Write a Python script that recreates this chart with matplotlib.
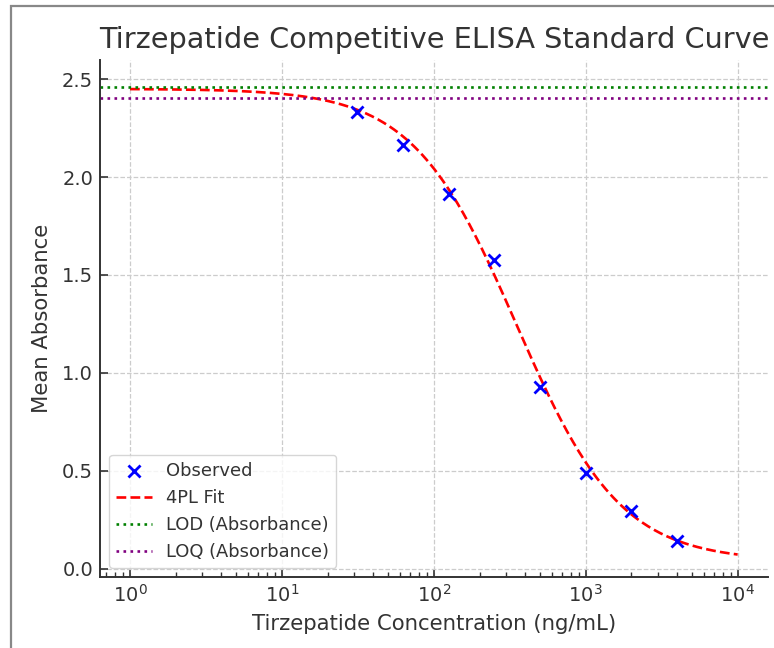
import numpy as np
import matplotlib.pyplot as plt
from matplotlib.patches import Rectangle

# Standard concentrations (ng/mL) and mean absorbance
conc = [31.25, 62.5, 125, 250, 500, 1000, 2000, 4000]
absorbance = [2.333, 2.165, 1.915, 1.577, 0.930, 0.491, 0.296, 0.143]

# 4PL fit parameters (top, bottom, IC50, hill slope)
fit_top = 2.45
fit_bottom = 0.04
fit_ic50 = 351.0
fit_hill = 1.27

lod_abs = 2.458
loq_abs = 2.405

text_color = '#333333'

def four_pl(x, a, d, c, b):
    return d + (a - d) / (1 + (x / c) ** b)

x_fit = np.logspace(0, 4, 300)
y_fit = four_pl(x_fit, fit_top, fit_bottom, fit_ic50, fit_hill)

fig = plt.figure(figsize=(7.74, 6.48), dpi=100)
ax = fig.add_axes([100 / 774, 1 - 577 / 648, 668 / 774, 517 / 648])

ax.scatter(conc, absorbance, marker='x', color='blue', s=75, linewidths=2, label='Observed', zorder=3)
ax.plot(x_fit, y_fit, '--', color='red', linewidth=1.9, label='4PL Fit')
ax.axhline(lod_abs, color='green', linestyle=':', linewidth=1.9, label='LOD (Absorbance)')
ax.axhline(loq_abs, color='purple', linestyle=':', linewidth=1.9, label='LOQ (Absorbance)')

ax.set_xscale('log')
ax.set_xlim(10 ** -0.1975, 10 ** 4.2)
ax.set_ylim(-0.041, 2.597)
ax.set_yticks([0.0, 0.5, 1.0, 1.5, 2.0, 2.5])

ax.set_title('Tirzepatide Competitive ELISA Standard Curve', fontsize=20.7, color=text_color, pad=8.5)
ax.set_xlabel('Tirzepatide Concentration (ng/mL)', fontsize=15.3, color=text_color, labelpad=6)
ax.set_ylabel('Mean Absorbance', fontsize=15.3, color=text_color, labelpad=7)

ax.grid(True, which='major', linestyle='--', color='#cccccc', linewidth=0.9)
ax.tick_params(which='both', direction='in', colors=text_color, labelsize=14)
ax.tick_params(which='major', length=6, width=1.2, pad=5)
ax.tick_params(which='minor', length=3.5, width=1)
for side in ['top', 'right']:
    ax.spines[side].set_visible(False)
for side in ['left', 'bottom']:
    ax.spines[side].set_color(text_color)
    ax.spines[side].set_linewidth(1.4)

leg = ax.legend(loc='lower left', fontsize=12.9, framealpha=0.8)
for t in leg.get_texts():
    t.set_color(text_color)

# gray frame of the original screenshot
fig.patches.append(Rectangle((11 / 774, -0.1), 2, 1.1 - 6 / 648, transform=fig.transFigure,
                             fill=False, edgecolor='#888888', linewidth=1.6))

fig.savefig('out.png', dpi=100)
